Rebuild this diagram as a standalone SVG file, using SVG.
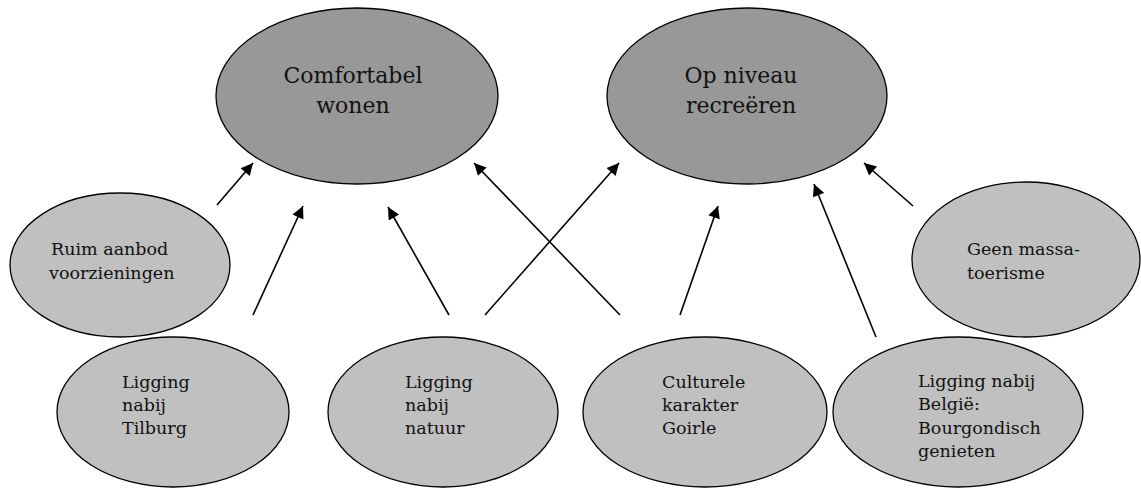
<svg xmlns="http://www.w3.org/2000/svg" width="1141" height="488" viewBox="0 0 1141 488">
<style>
.top{fill:#989898;stroke:#000;stroke-width:1.3}
.sub{fill:#c0c0c0;stroke:#000;stroke-width:1.3}
.tt{font-family:"DejaVu Serif","Liberation Serif",serif;font-size:22px;fill:#111;text-anchor:middle}
.st{font-family:"DejaVu Serif","Liberation Serif",serif;font-size:17.5px;fill:#111}
.c{stroke:#000;stroke-width:1.6;fill:none;marker-end:url(#ah)}
</style>
<defs>
<marker id="ah" viewBox="0 0 10 10" refX="10" refY="5" markerWidth="8.5" markerHeight="7.5" markerUnits="strokeWidth" orient="auto">
<path d="M0,0 L10,5 L0,10 z" fill="#000"/>
</marker>
</defs>
<rect width="1141" height="488" fill="#fff"/>
<g id="comfortabel">
<ellipse class="top" cx="357" cy="96" rx="141" ry="88"/>
<text class="tt" x="353" y="83">Comfortabel</text>
<text class="tt" x="353" y="113">wonen</text>
</g>
<g id="opniveau">
<ellipse class="top" cx="747" cy="96" rx="140" ry="88"/>
<text class="tt" x="741" y="83">Op niveau</text>
<text class="tt" x="741" y="113">recreëren</text>
</g>
<g id="ruim">
<ellipse class="sub" cx="120" cy="265" rx="110" ry="72"/>
<text class="st" x="51" y="255">Ruim aanbod</text>
<text class="st" x="49" y="279">voorzieningen</text>
</g>
<g id="geen">
<ellipse class="sub" cx="1026" cy="259.5" rx="114" ry="77.5"/>
<text class="st" x="967" y="255">Geen massa-</text>
<text class="st" x="967" y="279">toerisme</text>
</g>
<g id="tilburg">
<ellipse class="sub" cx="173" cy="412" rx="116" ry="75"/>
<text class="st" x="122" y="388">Ligging</text>
<text class="st" x="122" y="411">nabij</text>
<text class="st" x="122" y="434">Tilburg</text>
</g>
<g id="natuur">
<ellipse class="sub" cx="443" cy="412" rx="115" ry="75"/>
<text class="st" x="405" y="388">Ligging</text>
<text class="st" x="405" y="411">nabij</text>
<text class="st" x="405" y="434">natuur</text>
</g>
<g id="culturele">
<ellipse class="sub" cx="705" cy="412" rx="122" ry="75"/>
<text class="st" x="662" y="388">Culturele</text>
<text class="st" x="662" y="411">karakter</text>
<text class="st" x="662" y="434">Goirle</text>
</g>
<g id="belgie">
<ellipse class="sub" cx="958" cy="412" rx="125" ry="75"/>
<text class="st" x="918" y="387">Ligging nabij</text>
<text class="st" x="918" y="410">België:</text>
<text class="st" x="918" y="434">Bourgondisch</text>
<text class="st" x="918" y="457">genieten</text>
</g>
<g id="connectors">
<line class="c" x1="217" y1="205" x2="253" y2="163"/>
<line class="c" x1="253" y1="315" x2="303" y2="206"/>
<line class="c" x1="449" y1="315" x2="388" y2="207"/>
<line class="c" x1="485" y1="315" x2="619" y2="163"/>
<line class="c" x1="620" y1="315" x2="474" y2="163"/>
<line class="c" x1="680" y1="315" x2="718" y2="206"/>
<line class="c" x1="876" y1="337" x2="814" y2="184"/>
<line class="c" x1="913" y1="206" x2="864" y2="163"/>
</g>
</svg>
